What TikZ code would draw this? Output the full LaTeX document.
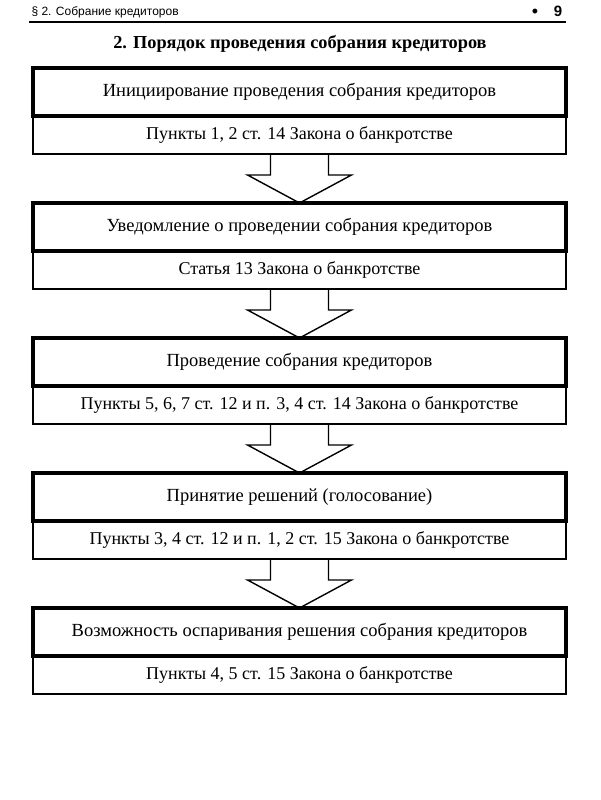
\documentclass[tikz,border=0pt]{standalone}
\usepackage{fontspec}
\setmainfont{Liberation Serif}
\newfontfamily\headfont{Liberation Sans}
\usetikzlibrary{positioning,calc}

\tikzset{
	stage/.style={draw, line width=3.5pt, minimum width=533pt, minimum height=48pt, inner sep=0pt, outer sep=0pt, font=\fontsize{18.5}{20}\selectfont},
	law/.style={draw, line width=1.6pt, minimum width=533pt, minimum height=38pt, inner sep=0pt, outer sep=0pt, font=\fontsize{18}{20}\selectfont},
	flow/.style={line width=1.4pt, line join=miter}
}
% block arrow from the law box of one stage to the next stage
\newcommand{\flowarrow}[2]{%
	\draw[flow] ($(#1.south)+(-29,0)$) -- ($(#1.south)+(-29,21)$) -- ($(#1.south)+(-52,21)$) -- (#2.north)
		-- ($(#1.south)+(52,21)$) -- ($(#1.south)+(29,21)$) -- ($(#1.south)+(29,0)$);}

\begin{document}
\begin{tikzpicture}[x=1pt, y=-1pt]
	\useasboundingbox (0,0) rectangle (600,800);
	% running head
	\node[anchor=west, font=\headfont\fontsize{12}{14}\selectfont] (running) at (28,12) {§ 2. Собрание кредиторов};
	\node[font=\headfont\fontsize{18}{18}\selectfont] (dot) at (535,13.5) {•};
	\node[font=\headfont\bfseries\fontsize{15}{16}\selectfont] (pagenum) at (558,11) {9};
	\coordinate (ruleL) at (29,22);
	\coordinate (ruleR) at (566,22);
	\draw[line width=1.2pt] (ruleL) -- (ruleR);
	\node[font=\bfseries\fontsize{18.3}{20}\selectfont] (title) at (300,44) {2. Порядок проведения собрания кредиторов};

	\node[stage] (head1) at (299.5,92) {Инициирование проведения собрания кредиторов};
	\node[law, below=0pt of head1] (law1) {Пункты 1, 2 ст. 14 Закона о банкротстве};
	\node[stage, below=49pt of law1] (head2) {Уведомление о проведении собрания кредиторов};
	\node[law, below=0pt of head2] (law2) {Статья 13 Закона о банкротстве};
	\node[stage, below=49pt of law2] (head3) {Проведение собрания кредиторов};
	\node[law, below=0pt of head3] (law3) {Пункты 5, 6, 7 ст. 12 и п. 3, 4 ст. 14 Закона о банкротстве};
	\node[stage, below=49pt of law3] (head4) {Принятие решений (голосование)};
	\node[law, below=0pt of head4] (law4) {Пункты 3, 4 ст. 12 и п. 1, 2 ст. 15 Закона о банкротстве};
	\node[stage, below=49pt of law4] (head5) {Возможность оспаривания решения собрания кредиторов};
	\node[law, below=0pt of head5] (law5) {Пункты 4, 5 ст. 15 Закона о банкротстве};

	\flowarrow{law1}{head2}
	\flowarrow{law2}{head3}
	\flowarrow{law3}{head4}
	\flowarrow{law4}{head5}
\end{tikzpicture}
\end{document}
